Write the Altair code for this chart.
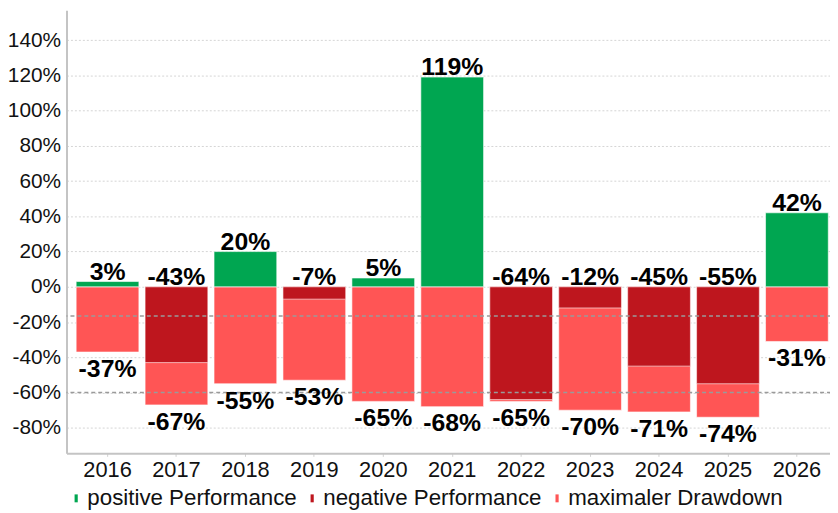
import altair as alt
import pandas as pd

years = ["2016", "2017", "2018", "2019", "2020", "2021", "2022", "2023", "2024", "2025", "2026"]
performance = [3, -43, 20, -7, 5, 119, -64, -12, -45, -55, 42]
drawdown = [-37, -67, -55, -53, -65, -68, -65, -70, -71, -74, -31]
ref_lines = [-16.5, -60]
y_ticks = [-80, -60, -40, -20, 0, 20, 40, 60, 80, 100, 120, 140]

cat_pos = "positive Performance"
cat_neg = "negative Performance"
cat_dd = "maximaler Drawdown"

df = pd.DataFrame({"year": years, "perf": performance, "dd": drawdown})
df["perf_cat"] = [cat_pos if v >= 0 else cat_neg for v in performance]
df["dd_cat"] = cat_dd
df["perf_top"] = [max(v, 0) for v in performance]
df["perf_label"] = [f"{v}%" for v in performance]
df["dd_label"] = [f"{v}%" for v in drawdown]
df["zero"] = 0

refs = pd.DataFrame({"y": ref_lines})

FONT = "Liberation Sans"

x_enc = alt.X(
    "year:N",
    sort=years,
    scale=alt.Scale(paddingInner=0.09, paddingOuter=0.14),
    axis=alt.Axis(
        title=None, labelAngle=0, labelFontSize=22, labelColor="#111111",
        labelFont=FONT, domainColor="#c4c4c4", domainWidth=2,
        tickColor="#d0d0d0", tickSize=3, labelPadding=3,
    ),
)
y_scale = alt.Scale(domain=[-94.5, 157], nice=False, zero=False)
y_axis = alt.Axis(
    title=None, values=y_ticks, labelExpr="datum.value + '%'",
    labelFontSize=21, labelColor="#111111", labelFont=FONT,
    domainColor="#c4c4c4", domainWidth=2, ticks=False, labelPadding=6,
    grid=True, gridColor="#d4d4d4", gridDash=[2, 2], gridWidth=1,
)

color_scale = alt.Scale(
    domain=[cat_pos, cat_neg, cat_dd],
    range=["#00A651", "#BE161E", "#FF5555"],
)
legend = alt.Legend(
    title=None, orient="none", legendX=-1.5, legendY=481, direction="horizontal",
    columns=3, labelFontSize=22.5, labelFont=FONT, labelColor="#111111", labelLimit=0,
    symbolType="M-0.4,-1L0.4,-1L0.4,1L-0.4,1Z", symbolSize=64,
    symbolStrokeWidth=0, labelOffset=0, columnPadding=4, padding=0,
)

base = alt.Chart(df)

dd_bars = base.mark_bar(stroke="white", strokeWidth=1, strokeOpacity=0.6).encode(
    x=x_enc,
    y=alt.Y("zero:Q", scale=y_scale, axis=y_axis),
    y2="dd:Q",
    color=alt.Color("dd_cat:N", scale=color_scale, legend=legend),
)
perf_bars = base.mark_bar(stroke="white", strokeWidth=1, strokeOpacity=0.6).encode(
    x=x_enc,
    y=alt.Y("zero:Q", scale=y_scale, axis=y_axis),
    y2="perf:Q",
    color=alt.Color("perf_cat:N", scale=color_scale, legend=legend),
)
rules = alt.Chart(refs).mark_rule(color="#9a9a9a", strokeDash=[4, 3], strokeWidth=1.5).encode(
    y=alt.Y("y:Q", scale=y_scale, axis=y_axis),
)
perf_text = base.mark_text(
    fontSize=25, fontWeight="bold", font=FONT, baseline="alphabetic", dy=-2, color="#000000",
).encode(
    x=x_enc, y=alt.Y("perf_top:Q", scale=y_scale, axis=y_axis), text="perf_label:N",
)
dd_text = base.mark_text(
    fontSize=25, fontWeight="bold", font=FONT, baseline="alphabetic", dy=25, color="#000000",
).encode(
    x=x_enc, y=alt.Y("dd:Q", scale=y_scale, axis=y_axis), text="dd_label:N",
)

chart = (
    alt.layer(dd_bars, perf_bars, rules, perf_text, dd_text)
    .properties(
        width=778, height=447,
        autosize=alt.AutoSizeParams(type="none"),
        padding={"left": 59, "top": 0, "right": -8, "bottom": 60},
    )
    .configure_view(stroke=None)
)

chart.save("out.html", embed_options={"renderer": "svg", "actions": False})
